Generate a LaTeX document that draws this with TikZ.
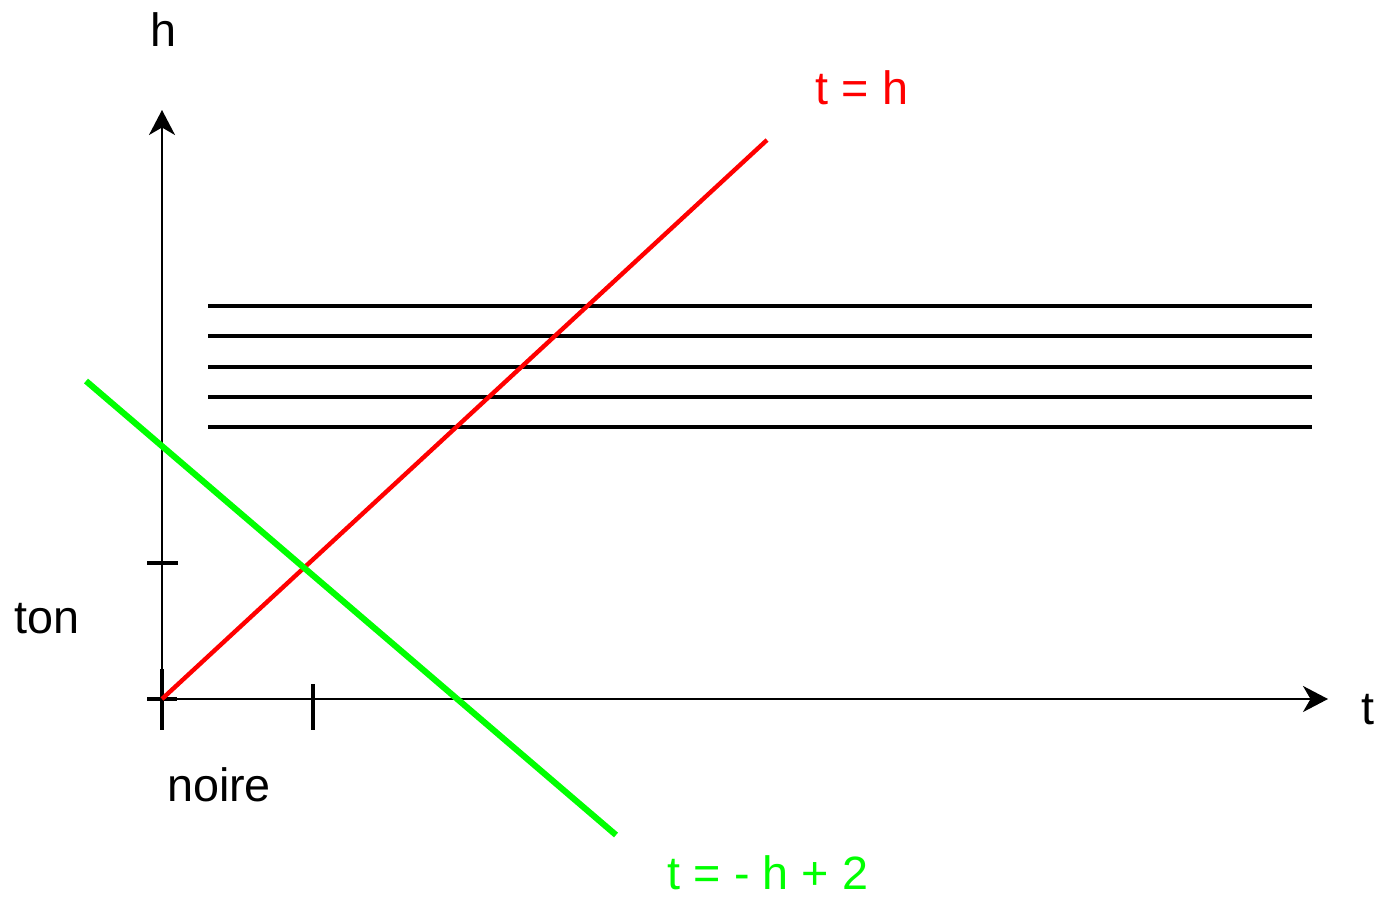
\documentclass[tikz,border=0pt]{standalone}
\usepackage{fontspec}
\setmainfont{Liberation Sans}
\usepackage{xcolor}
\usetikzlibrary{positioning,arrows.meta}
\definecolor{lignerouge}{RGB}{255,0,0}
\definecolor{ligneverte}{RGB}{0,255,0}

\begin{document}
\begin{tikzpicture}[
    x=0.02cm, y=-0.02cm,
    axe/.style={-{Stealth[length=0.5cm, width=0.52cm, inset=0.15cm]}, line width=1.3pt, draw=black},
    graduation/.style={line width=1.9pt, draw=black},
    portee/.style={line width=1.8pt, draw=black},
    droiterouge/.style={line width=2.5pt, draw=lignerouge},
    droiteverte/.style={line width=3.5pt, draw=ligneverte},
    lab/.style={font=\fontsize{26.6}{30}\selectfont, inner sep=0pt}
  ]
    \useasboundingbox (0,0) rectangle (1378,898);

    \coordinate (O) at (162,699);
    \coordinate (ymax) at (162,110);
    \coordinate (xmax) at (1328,699);

    \draw[axe] (O) -- (ymax);
    \draw[axe] (O) -- (xmax);

    % graduations
    \draw[graduation] (162,669) -- (162,730);
    \draw[graduation] (147,699) -- (177,699);
    \draw[graduation] (147,563) -- (178,563);
    \draw[graduation] (313,684) -- (313,730);

    % portee
    \foreach \y in {306,336,367,397,427}
      \draw[portee] (208,\y) -- (1312,\y);

    \coordinate (r1) at (767,140);
    \coordinate (v0) at (86,381);
    \coordinate (v1) at (616,835);
    \draw[droiterouge] (O) -- (r1);
    \draw[droiteverte] (v0) -- (v1);

    \node[lab] (labh) at (163,30) {h};
    \node[lab] (labt) at (1368,710) {t};
    \node[lab] (labton) at (47,619) {ton};
    \node[lab] (labnoire) at (219,785) {noire};
    \node[lab, text=lignerouge] (labrouge) at (862,88) {t = h};
    \node[lab, text=ligneverte] (labverte) at (768,873) {t = - h + 2};
  \end{tikzpicture}
\end{document}
